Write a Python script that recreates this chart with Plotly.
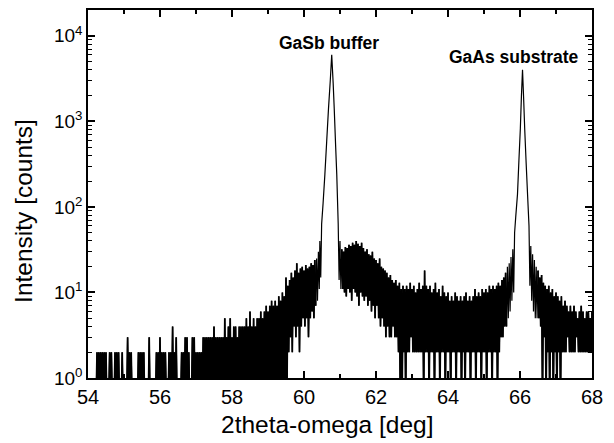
import plotly.graph_objects as go

# ---------------- data (counts) ----------------
STEP = 0.05  # sampling step of the band arrays [deg]

# Segment 1: 54.00 .. 60.30 deg, upper and lower counts per step
seg1_start = 54.00
seg1_hi = [
    1, 1, 1, 1, 1, 2, 2, 2, 2, 2, 2, 1, 2, 2, 1, 2, 2, 2, 1, 2,          # 54
    1, 1, 3, 2, 2, 1, 1, 1, 2, 2, 2, 2, 1, 1, 3, 1, 1, 1, 2, 2,          # 55
    3, 2, 2, 2, 1, 2, 2, 4, 2, 3, 1, 1, 2, 2, 3, 3, 2, 1, 3, 3,          # 56
    2, 2, 2, 2, 3, 3, 3, 3, 3, 3, 4, 3, 3, 3, 3, 3, 5, 3, 4, 5,          # 57
    3, 4, 4, 3, 4, 4, 4, 4, 5, 4, 6, 4, 5, 4, 5, 5, 6, 5, 6, 7,          # 58
    6, 7, 8, 7, 8, 7, 9, 8, 10, 9, 15, 12, 14, 17, 15, 18, 22, 17, 19, 20,  # 59
    18, 21, 19, 20, 22, 21, 24,                                        # 60.00-60.30
]
seg1_lo = [0] * 111 + [2, 3, 2, 4, 3, 4, 2, 4, 5, 4, 5, 3, 5, 6, 5, 7]

# GaSb buffer peak
peak1_deg = [60.35, 60.375, 60.40, 60.425, 60.44, 60.465, 60.49, 60.53, 60.58,
             60.63, 60.68, 60.73, 60.77, 60.81, 60.84, 60.88, 60.91, 60.95,
             60.975, 61.00, 61.025]
peak1_counts = [25, 8, 30, 11, 40, 15, 63, 110, 240,
                580, 1400, 3000, 6000, 2800, 1400, 500, 240, 63,
                14, 40, 11]

# Segment 2: 61.05 .. 65.60 deg
seg2_start = 61.05
seg2_hi = [
    32, 30, 34, 33, 36, 35, 38, 36, 40, 37, 35, 38, 33, 30, 32, 28, 27, 30, 25,   # 61.05-61.95
    24, 22, 25, 20, 19, 18, 17, 15, 16, 14, 13, 14, 12, 13, 11, 12, 11, 12, 11, 13,  # 62
    11, 12, 10, 11, 13, 11, 12, 18, 12, 11, 12, 10, 11, 13, 10, 11, 9, 12, 10, 9,  # 63
    10, 8, 9, 8, 10, 9, 8, 9, 8, 9, 10, 8, 9, 8, 9, 11, 9, 10, 9, 11,             # 64
    10, 11, 10, 12, 11, 12, 11, 12, 13, 12, 14, 15, 17,                          # 65.00-65.60
]
seg2_lo = [
    11, 10, 9, 11, 10, 8, 11, 10, 9, 7, 10, 9, 8, 9, 7, 8, 6, 7, 5,
    7, 5, 4, 5, 4, 3, 4, 3, 3, 4, 3, 3, 2, 0, 0, 2, 0, 2, 2, 3,
    2, 2, 2, 2, 2, 2, 0, 2, 2, 0, 2, 2, 0, 2, 2, 0, 2, 2, 0, 2,
    2, 0, 2, 2, 0, 2, 2, 0, 2, 0, 2, 2, 0, 2, 2, 0, 2, 2, 0, 2,
    2, 0, 2, 2, 0, 2, 2, 0, 2, 3, 3, 4, 4,
]

# GaAs substrate peak
peak2_deg = [65.65, 65.675, 65.70, 65.725, 65.75, 65.775, 65.80, 65.825, 65.85,
             65.88, 65.93, 65.97, 66.01, 66.04, 66.07, 66.10, 66.13, 66.17,
             66.21, 66.25, 66.275, 66.30, 66.325, 66.35, 66.375, 66.40, 66.425,
             66.45, 66.475]
peak2_counts = [20, 5, 22, 6, 26, 8, 32, 10, 50,
                75, 140, 350, 830, 2000, 4000, 1900, 830, 330,
                140, 60, 12, 35, 8, 28, 6, 24, 5,
                20, 5]

# Segment 3: 66.50 .. 68.00 deg
seg3_start = 66.50
seg3_hi = [18, 15, 16, 13, 12, 11, 12, 10, 11, 9, 10, 9, 8, 9, 7, 8, 7, 6, 7, 6,
           7, 6, 5, 6, 7, 6, 5, 6, 6, 5, 6]
seg3_lo = [5, 4, 0, 3, 0, 2, 0, 2, 0, 2, 0, 2, 0, 2, 2, 2, 3, 2, 2, 2,
           2, 3, 2, 2, 2, 2, 2, 2, 2, 2, 2]

y_tick_vals = [1, 10, 100, 1000, 10000]
y_tick_text = ["10<sup>0</sup>", "10<sup>1</sup>", "10<sup>2</sup>",
               "10<sup>3</sup>", "10<sup>4</sup>"]

labels = ["GaSb buffer", "GaAs substrate"]

# ---------------- build the traces ----------------
def band(start, hi, lo):
    xs, ys = [], []
    for i, (h, l) in enumerate(zip(hi, lo)):
        x0 = start + i * STEP
        xs += [x0, x0 + STEP / 2]
        ys += [h, l]
    return xs, ys

def shown(vals):
    # zero counts cannot be shown on a log axis: draw them below the axis (clipped)
    return [v if v > 0 else 0.5 for v in vals]

bands = [band(seg1_start, seg1_hi, seg1_lo),
         band(seg2_start, seg2_hi, seg2_lo),
         band(seg3_start, seg3_hi, seg3_lo)]
parts = [bands[0], (peak1_deg, peak1_counts), bands[1],
         (peak2_deg, peak2_counts), bands[2]]

xs, ys = [], []
for px, py in parts:
    xs += list(px)
    ys += list(py)

FONT = "Liberation Sans, Arial, sans-serif"

fig = go.Figure()
# noisy background band, drawn a bit heavier so the dense scan looks solid
for bx, by in bands:
    fig.add_trace(go.Scatter(x=bx, y=shown(by), mode="lines",
                             line=dict(color="black", width=1.7, simplify=False),
                             hoverinfo="skip", showlegend=False))
# full scan as one thin line (peaks included)
fig.add_trace(go.Scatter(x=xs, y=shown(ys), mode="lines",
                         line=dict(color="black", width=1.2, simplify=False),
                         hoverinfo="skip", showlegend=False))

fig.update_layout(
    width=614, height=443,
    margin=dict(l=88, r=22, t=8, b=65),
    plot_bgcolor="white", paper_bgcolor="white",
    font=dict(family=FONT, color="black"),
    showlegend=False,
)

fig.update_xaxes(
    range=[54, 68], tick0=54, dtick=2,
    ticks="inside", ticklen=7, tickwidth=1.5, tickcolor="black",
    minor=dict(ticks="inside", ticklen=4, dtick=1, tickwidth=1.5, tickcolor="black"),
    showline=True, linewidth=1.5, linecolor="black", mirror="allticks",
    showgrid=False, zeroline=False,
    tickfont=dict(size=20, family=FONT, color="black"),
)

minor_vals = [m * d for d in (1, 10, 100, 1000, 10000) for m in range(2, 10)]
fig.update_yaxes(
    type="log", range=[0, 4.302],
    tickmode="array", tickvals=y_tick_vals, ticktext=y_tick_text,
    ticks="inside", ticklen=7, tickwidth=1.5, tickcolor="black",
    minor=dict(ticks="inside", ticklen=4, tickmode="array", tickvals=minor_vals,
               tickwidth=1, tickcolor="black"),
    showline=True, linewidth=1.5, linecolor="black", mirror="allticks",
    showgrid=False, zeroline=False,
    tickfont=dict(size=19, family=FONT, color="black"),
)

# peak labels
fig.add_annotation(x=60.69, y=3.92, xref="x", yref="y", text=f"<b>{labels[0]}</b>",
                   showarrow=False, font=dict(size=17.5, family=FONT, color="black"))
fig.add_annotation(x=65.83, y=3.756, xref="x", yref="y", text=f"<b>{labels[1]}</b>",
                   showarrow=False, font=dict(size=17.5, family=FONT, color="black"))

# axis titles
fig.add_annotation(x=0.476, y=-0.127, xref="paper", yref="paper",
                   text="2theta-omega [deg]", showarrow=False,
                   xanchor="center", yanchor="middle",
                   font=dict(size=24.5, family=FONT, color="black"))
fig.add_annotation(x=-0.127, y=0.454, xref="paper", yref="paper",
                   text="Intensity [counts]", showarrow=False, textangle=-90,
                   xanchor="center", yanchor="middle",
                   font=dict(size=24.5, family=FONT, color="black"))

fig.write_html("out.html")
